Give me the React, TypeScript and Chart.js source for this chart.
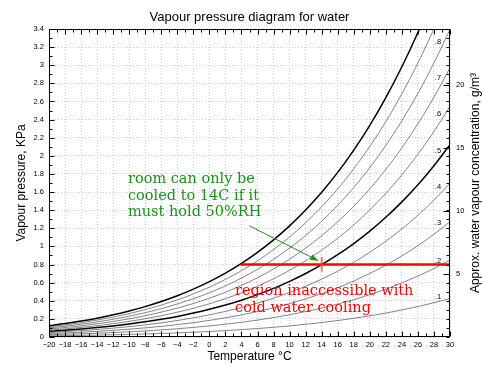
import React, { useEffect, useRef } from 'react';
import { Chart, registerables } from 'chart.js';

Chart.register(...registerables);

// ---- data ----
const temperaturesC = [-20, -18, -16, -14, -12, -10, -8, -6, -4, -2, 0, 2, 4, 6, 8, 10, 12, 14, 16, 18, 20, 22, 24, 26, 28, 30];
const saturationKPa = [0.1257, 0.1491, 0.1764, 0.208, 0.2446, 0.2868, 0.3354, 0.3911, 0.455, 0.528, 0.6112, 0.7058, 0.8132, 0.9348, 1.0723, 1.2272, 1.4015, 1.5974, 1.817, 2.0626, 2.3372, 2.6429, 2.9834, 3.3616, 3.7811, 4.2457];
const humidityLevels = [1, 0.9, 0.8, 0.7, 0.6, 0.5, 0.4, 0.3, 0.2, 0.1];
const boldLevels = [1, 0.5];
const curveLabels = ['.8', '.7', '.6', '.5', '.4', '.3', '.2', '.1'];
const curveLabelKPa = [3.26, 2.86, 2.46, 2.05, 1.66, 1.26, 0.84, 0.44];
const curveLabelTempC = 28.5;
const concentrationTicks = [5, 10, 15, 20];
const gramsPerKPa = 7.2;
const limitKPa = 0.8;
const limitFromC = 3.9;
const limitToC = 30;
const coolingTempC = 14;
const markerKPa = [0.72, 0.88];
const arrowFrom = { x: 4.98, y: 1.228 };
const arrowTo = { x: 13.58, y: 0.842 };
const greenNote = ['room can only be', 'cooled to 14C if it', 'must hold 50%RH'];
const greenNoteAt = { x: -10.15, y: 1.70 };
const redNote = ['region inaccessible with', 'cold water cooling'];
const redNoteAt = { x: 3.2, y: 0.465 };
const chartTitle = 'Vapour pressure diagram for water';
const xTitle = 'Temperature °C';
const yTitle = 'Vapour pressure, KPa';
const y2Title = 'Approx. water vapour concentration, g/m³';

const SANS = '"Liberation Sans", Arial, Helvetica, sans-serif';
const SERIF = '"DejaVu Serif", serif';
const GREEN = '#1a921a';
const RED = '#ff0000';

const decorations = {
  id: 'decorations',
  afterDraw(chart: any) {
    const { ctx, chartArea: a, scales } = chart;
    const x = scales.x;
    const y = scales.y;
    ctx.save();

    // frame
    ctx.strokeStyle = '#000';
    ctx.lineWidth = 1;
    const L = Math.round(a.left) + 0.5;
    const R = Math.round(a.right) - 0.5;
    const T = Math.round(a.top) + 0.5;
    const B = Math.round(a.bottom) - 0.5;
    ctx.strokeRect(L, T, R - L, B - T);

    // inward ticks
    ctx.beginPath();
    for (let t = -20; t <= 30; t += 1) {
      const px = Math.round(x.getPixelForValue(t)) + 0.5;
      const len = t % 2 === 0 ? 5 : 3;
      ctx.moveTo(px, B); ctx.lineTo(px, B - len);
      ctx.moveTo(px, T); ctx.lineTo(px, T + len);
    }
    for (let k = 0; k <= 34; k++) {
      const py = Math.round(y.getPixelForValue(k / 10)) + 0.5;
      const len = k % 2 === 0 ? 5 : 3;
      ctx.moveTo(L, py); ctx.lineTo(L + len, py);
      ctx.moveTo(R, py); ctx.lineTo(R - 3, py);
    }
    concentrationTicks.forEach((c) => {
      const py = Math.round(y.getPixelForValue(c / gramsPerKPa)) + 0.5;
      ctx.moveTo(R, py); ctx.lineTo(R - 6, py);
    });
    ctx.stroke();

    // title
    ctx.fillStyle = '#000';
    ctx.font = `13px ${SANS}`;
    ctx.textAlign = 'center';
    ctx.textBaseline = 'alphabetic';
    ctx.fillText(chartTitle, (a.left + a.right) / 2, 20.5);

    // right axis title
    ctx.save();
    ctx.translate(476, (a.top + a.bottom) / 2);
    ctx.rotate(-Math.PI / 2);
    ctx.font = `12px ${SANS}`;
    ctx.textBaseline = 'middle';
    ctx.fillText(y2Title, 0, 0);
    ctx.restore();

    // curve labels
    ctx.font = `7.5px ${SANS}`;
    ctx.textBaseline = 'middle';
    ctx.textAlign = 'center';
    curveLabels.forEach((lab, i) => {
      ctx.fillText(lab, x.getPixelForValue(curveLabelTempC), y.getPixelForValue(curveLabelKPa[i]));
    });

    // arrow head
    const x0 = x.getPixelForValue(arrowFrom.x), y0 = y.getPixelForValue(arrowFrom.y);
    const x1 = x.getPixelForValue(arrowTo.x), y1 = y.getPixelForValue(arrowTo.y);
    const ang = Math.atan2(y1 - y0, x1 - x0);
    const hl = 8, hw = 3;
    ctx.fillStyle = GREEN;
    ctx.beginPath();
    ctx.moveTo(x1, y1);
    ctx.lineTo(x1 - hl * Math.cos(ang) + hw * Math.sin(ang), y1 - hl * Math.sin(ang) - hw * Math.cos(ang));
    ctx.lineTo(x1 - hl * Math.cos(ang) - hw * Math.sin(ang), y1 - hl * Math.sin(ang) + hw * Math.cos(ang));
    ctx.closePath();
    ctx.fill();

    // notes
    ctx.textAlign = 'left';
    ctx.textBaseline = 'alphabetic';
    ctx.font = `14.5px ${SERIF}`;
    ctx.fillStyle = GREEN;
    greenNote.forEach((line, i) => {
      ctx.fillText(line, x.getPixelForValue(greenNoteAt.x), y.getPixelForValue(greenNoteAt.y) + i * 16.5);
    });
    ctx.fillStyle = RED;
    redNote.forEach((line, i) => {
      ctx.fillText(line, x.getPixelForValue(redNoteAt.x), y.getPixelForValue(redNoteAt.y) + i * 17);
    });

    ctx.restore();
  },
};

export default function App() {
  const ref = useRef<HTMLCanvasElement>(null);

  useEffect(() => {
    const curves = humidityLevels.map((rh) => {
      const bold = boldLevels.includes(rh);
      return {
        label: `RH ${rh}`,
        data: temperaturesC.map((t, i) => ({ x: t, y: rh * saturationKPa[i] })),
        borderColor: bold ? '#000' : '#333',
        borderWidth: bold ? 1.5 : 0.6,
        pointRadius: 0,
        cubicInterpolationMode: 'monotone' as const,
        order: 5,
      };
    });

    const annotations = [
      {
        label: 'limit',
        data: [{ x: limitFromC, y: limitKPa }, { x: limitToC, y: limitKPa }],
        borderColor: RED,
        borderWidth: 2.5,
        pointRadius: 0,
        order: 1,
      },
      {
        label: 'marker',
        data: [{ x: coolingTempC, y: markerKPa[0] }, { x: coolingTempC, y: markerKPa[1] }],
        borderColor: 'rgba(255,70,70,0.75)',
        borderWidth: 2,
        pointRadius: 0,
        order: 0,
      },
      {
        label: 'arrow',
        data: [arrowFrom, arrowTo],
        borderColor: GREEN,
        borderWidth: 1,
        pointRadius: 0,
        order: 0,
      },
    ];

    const tickFont = { family: SANS, size: 7.5 };
    const titleFont = { family: SANS, size: 12 };

    const chart = new Chart(ref.current!, {
      type: 'line',
      data: { datasets: [...annotations, ...curves] as any },
      plugins: [decorations],
      options: {
        responsive: false,
        animation: false,
        parsing: false as any,
        layout: { padding: { top: 29, left: 0, right: 0, bottom: 0 } },
        plugins: { legend: { display: false }, tooltip: { enabled: false }, title: { display: false } },
        scales: {
          x: {
            type: 'linear',
            position: 'bottom',
            min: -20,
            max: 30,
            afterFit: (s: any) => { s.height = 28; },
            ticks: {
              stepSize: 2,
              autoSkip: false,
              maxRotation: 0,
              padding: 3,
              font: tickFont,
              color: '#000',
              callback: (v: any) => (Number(v) < 0 ? '\u2212' + Math.abs(Number(v)) : String(v)),
            },
            grid: { color: '#cccccc', lineWidth: 1, drawTicks: false },
            border: { display: false, dash: [1, 2] },
            title: { display: true, text: xTitle, font: titleFont, color: '#000', padding: { top: 0, bottom: 1 } },
          },
          y: {
            type: 'linear',
            position: 'left',
            min: 0,
            max: 3.4,
            afterFit: (s: any) => { s.width = 49; },
            ticks: {
              stepSize: 0.2,
              autoSkip: false,
              padding: 5,
              font: tickFont,
              color: '#000',
              callback: (v: any) => String(Math.round(Number(v) * 10) / 10),
            },
            grid: { color: '#cccccc', lineWidth: 1, drawTicks: false },
            border: { display: false, dash: [1, 2] },
            title: { display: true, text: yTitle, font: titleFont, color: '#000', padding: { top: 14, bottom: 0 } },
          },
          y2: {
            type: 'linear',
            position: 'right',
            display: true,
            min: 0,
            max: 3.4,
            afterFit: (s: any) => { s.width = 32; },
            afterBuildTicks: (s: any) => { s.ticks = concentrationTicks.map((c) => ({ value: c / gramsPerKPa })); },
            ticks: {
              autoSkip: false,
              padding: 6,
              font: tickFont,
              color: '#000',
              callback: (_v: any, i: number) => String(concentrationTicks[i]),
            },
            grid: { display: false, drawTicks: false },
            border: { display: false },
          },
        },
      } as any,
    });
    return () => chart.destroy();
  }, []);

  return (
    <div style={{ position: 'absolute', left: 0, top: 0, width: 482, height: 365, background: '#fff' }}>
      <canvas ref={ref} width={482} height={365} />
    </div>
  );
}
